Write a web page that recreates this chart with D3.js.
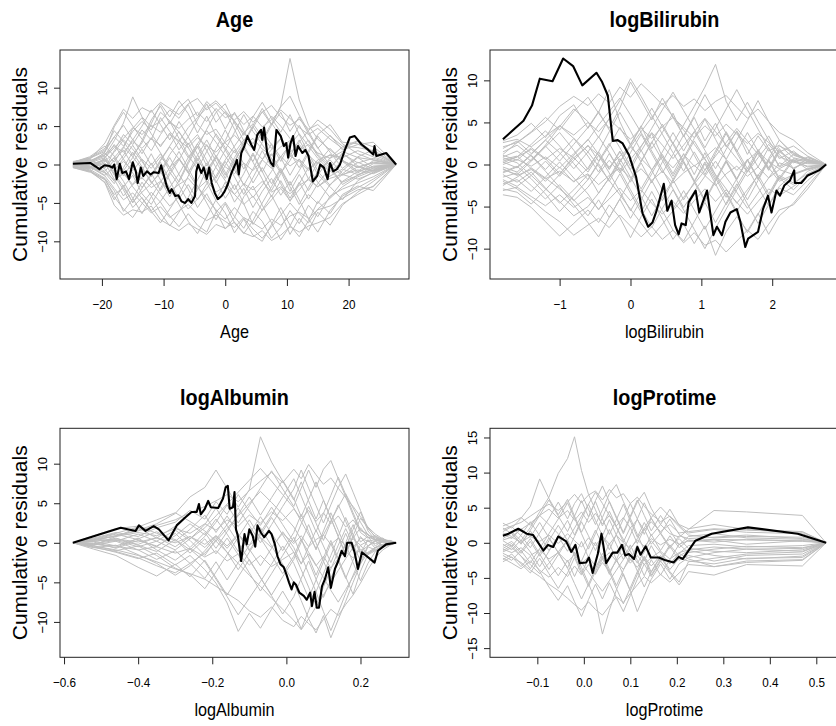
<!DOCTYPE html>
<html>
<head>
<meta charset="utf-8">
<script src="https://cdn.jsdelivr.net/npm/d3@7"></script>
<style>
  html, body { margin: 0; padding: 0; background: #fff; }
  svg { display: block; font-family: "Liberation Sans", Arial, Helvetica, sans-serif; }
</style>
</head>
<body>
<svg id="chart" width="836" height="726"></svg>
<script>
// ---------- Age ----------
const ageGrid = [-24.7,-22,-19.5,-18,-16.5,-15,-13.5,-12,-10.5,-9,-7.5,-6,-4.5,-3,-1.5,0,1.5,3,4.5,6,7.5,9,10.5,12,13.5,15,17,19,21.5,24,27.7];
const ageSims = [
  [0.2,0.5,1.2,3.1,5.4,8.8,6.2,4.9,5.6,7.1,6.0,7.8,5.2,3.9,4.6,2.8,1.5,3.2,2.0,0.7,1.9,3.3,1.1,0.4,-0.8,0.6,1.2,0.9,1.8,1.0,0],
  [-0.3,-0.8,-1.9,-4.2,-5.8,-6.9,-5.1,-3.6,-4.9,-6.7,-8.1,-6.4,-7.9,-8.8,-6.2,-4.9,-6.8,-8.3,-6.1,-7.4,-9.6,-8.2,-6.0,-7.7,-5.3,-6.8,-4.1,-3.2,-2.4,-1.6,0],
  [0.1,0.3,-0.5,1.8,3.9,2.6,4.5,3.2,6.1,4.3,2.8,0.9,2.2,4.6,6.8,7.9,5.4,3.1,4.8,6.9,5.2,7.6,13.8,8.4,5.1,3.3,1.9,0.6,-0.9,-0.3,0],
  [-0.1,-0.4,0.8,-1.2,-2.9,-1.4,-3.8,-5.2,-3.1,-1.0,-2.7,-4.9,-3.3,-0.6,-2.1,-4.4,-2.6,-5.1,-7.8,-5.9,-4.0,-6.3,-9.1,-7.0,-8.6,-6.2,-7.9,-5.3,-3.6,-2.2,0],
  [0.3,0.9,2.1,4.4,3.0,1.2,2.8,5.3,7.9,6.2,8.3,6.6,4.1,6.3,3.7,1.9,4.2,6.5,4.3,2.6,0.8,-1.1,0.5,2.9,4.4,5.8,4.6,2.7,1.4,0.6,0],
  [0.0,-0.2,-1.1,-2.5,-0.4,1.6,-0.3,-2.4,-1.1,0.9,-1.3,-3.2,-5.6,-3.8,-6.1,-8.4,-6.9,-4.2,-2.8,-5.3,-7.6,-9.8,-8.0,-5.7,-3.9,-5.1,-2.6,-1.3,-0.7,-1.2,0],
  [-0.2,0.4,1.5,0.3,2.2,4.7,6.1,4.0,2.3,4.1,1.9,3.6,5.8,7.9,5.5,6.9,4.6,2.1,0.4,2.9,5.1,6.8,4.3,6.2,4.0,2.1,3.8,1.9,2.6,2.9,0],
  [0.1,-0.5,0.2,-1.9,-4.1,-2.6,-0.8,1.4,-0.9,-3.1,-5.2,-7.4,-9.0,-6.8,-4.6,-2.3,-4.9,-3.1,-5.6,-3.5,-1.8,-4.0,-2.2,-4.6,-7.1,-8.8,-6.0,-4.1,-3.0,-1.9,0],
  [0.4,0.7,-0.6,-2.2,-1.0,-2.9,-4.4,-6.1,-7.6,-5.8,-3.9,-1.5,0.8,-1.3,0.9,3.1,5.7,3.8,6.2,8.1,6.0,4.2,6.5,3.9,1.4,-0.8,0.6,-1.2,0.3,-0.6,0],
  [-0.4,-1.0,0.9,2.6,0.7,-1.1,-3.0,-1.4,0.6,2.4,4.3,2.2,0.1,-2.3,-4.7,-6.3,-8.9,-7.1,-9.2,-10.0,-7.8,-5.6,-7.9,-9.4,-7.3,-4.8,-6.4,-3.9,-2.8,-3.4,0],
  [0.2,0.1,1.6,4.9,6.8,5.0,3.3,1.8,3.9,5.6,3.4,1.2,-0.6,1.7,4.0,2.2,0.3,2.6,4.9,3.1,5.4,3.6,1.5,-0.4,1.8,3.9,5.2,2.9,2.7,1.3,0],
  [-0.2,-0.6,-1.8,-3.4,-6.1,-4.5,-2.3,-4.1,-6.3,-8.0,-6.2,-4.3,-2.0,0.2,-2.4,-0.1,1.9,-0.6,1.5,-0.9,-3.4,-1.2,1.1,3.2,1.0,-1.3,-2.9,-4.6,-2.1,-1.0,0],
  [0.3,1.0,2.4,1.1,-0.8,0.9,3.1,5.8,7.6,5.3,7.4,8.5,6.3,8.2,7.0,4.6,6.8,4.4,2.2,4.3,2.6,0.4,2.8,5.1,3.0,1.1,-0.5,1.4,0.2,0.8,0],
  [-0.3,0.2,-0.9,0.6,1.9,-0.2,-1.9,0.2,-2.0,-4.2,-2.1,0.4,2.7,0.5,-1.8,0.4,-1.6,-3.9,-1.7,0.6,2.7,0.9,-1.4,0.7,-1.9,0.2,2.1,0.4,-1.1,0.1,0],
  [0.0,-0.3,0.6,-0.4,-2.2,-4.4,-6.4,-4.2,-2.3,-0.4,1.7,-0.5,-2.8,-5.0,-7.2,-5.1,-7.6,-9.0,-7.3,-5.0,-2.9,-0.7,-2.9,-5.2,-3.0,-0.9,-2.7,-0.8,0.9,-0.4,0],
  [0.2,0.6,-0.2,0.9,-1.5,0.3,2.0,-0.1,1.4,-0.9,0.8,-1.1,1.2,3.2,1.0,-1.4,0.9,2.9,5.1,7.3,5.2,7.5,8.9,6.4,4.3,2.2,-0.2,-2.6,-1.4,-0.2,0],
  [-0.1,0.3,1.1,-0.9,0.8,2.5,0.6,-1.6,0.3,-2.1,-4.5,-2.6,-4.6,-2.5,-0.3,1.9,-0.2,-2.7,-0.6,1.8,-0.3,-2.5,-4.8,-2.5,-0.4,-2.3,-4.3,-2.2,-0.9,0.5,0],
  [0.1,-0.2,-1.4,-0.3,1.2,3.3,1.4,3.5,1.5,-0.4,-2.3,0.1,2.4,-0.2,2.1,4.5,2.2,0.1,-2.4,-0.4,-2.5,-0.5,-2.7,-0.8,1.5,3.7,1.6,-0.5,1.0,1.9,0],
  [-0.4,-0.9,-2.3,-4.6,-2.7,-5.0,-3.1,-1.1,-3.4,-1.3,0.6,2.8,0.5,2.6,0.4,-1.8,0.5,2.5,0.3,-1.9,-4.2,-2.1,-4.4,-2.3,-4.5,-2.5,-0.4,1.5,-0.2,-0.8,0],
  [0.3,0.8,1.9,3.6,5.1,3.2,5.0,7.1,5.2,3.2,5.6,3.6,1.3,-1.1,1.2,-1.0,-3.3,-1.2,1.3,-1.0,1.4,-0.9,-3.5,-1.3,-3.4,-1.4,0.9,2.3,3.1,1.6,0],
  [0.1,0.6,2.8,5.1,7.2,6.0,7.4,6.8,8.1,7.3,6.5,7.9,8.6,7.1,8.0,6.6,5.8,6.9,5.5,6.8,7.7,6.2,5.1,5.9,4.6,5.2,3.7,2.4,2.2,1.8,0],
  [-0.2,-0.7,-2.4,-5.3,-6.6,-5.9,-6.2,-5.4,-7.2,-7.9,-8.6,-7.7,-8.4,-9.1,-7.8,-8.3,-7.5,-8.9,-9.4,-8.6,-9.9,-9.2,-8.1,-8.8,-8.0,-7.6,-6.9,-5.1,-3.9,-2.8,0],
  [0.0,0.2,0.9,2.2,3.4,4.8,3.9,5.1,4.2,5.5,4.7,5.9,6.8,5.6,7.3,6.1,6.6,5.2,6.3,4.9,5.8,7.1,6.0,4.8,3.9,4.7,3.3,2.1,3.0,2.3,0],
  [0.1,-0.3,-1.5,-3.1,-4.6,-3.7,-5.0,-6.3,-5.5,-6.9,-6.0,-5.2,-6.5,-7.3,-6.6,-7.4,-8.2,-6.9,-7.6,-8.4,-7.1,-7.9,-6.7,-6.2,-7.0,-5.9,-5.4,-4.4,-3.3,-2.9,0],
  [-0.1,0.1,0.5,-0.6,0.4,-0.8,0.7,-0.5,1.0,-0.4,0.8,-0.9,0.3,-0.6,0.9,-0.3,-1.2,0.2,-0.8,0.6,-0.5,1.1,-0.2,0.7,-0.6,0.3,-0.9,0.4,-0.3,0.2,0],
  [0.2,0.4,1.3,2.4,1.6,3.0,2.1,3.4,2.5,3.9,3.1,2.2,3.5,2.4,1.6,2.9,3.8,2.6,3.4,2.0,1.2,2.3,3.1,1.9,2.6,1.5,0.8,1.7,0.9,0.6,0],
  [-0.3,-0.4,-1.0,-2.0,-1.2,-2.6,-1.7,-3.0,-2.2,-3.5,-2.6,-1.8,-3.2,-2.1,-3.6,-2.8,-3.9,-2.5,-3.3,-2.2,-3.6,-2.9,-3.8,-2.7,-2.0,-2.9,-1.8,-1.3,-1.9,-1.1,0],
  [0.2,0.8,1.7,3.6,2.4,4.3,5.6,4.5,6.8,5.7,4.2,2.6,3.9,1.8,-0.4,-2.1,-3.9,-5.2,-4.1,-6.0,-4.6,-3.1,-4.7,-3.3,-1.8,-2.9,-1.5,-0.6,-1.3,-0.7,0],
  [-0.2,-0.9,-2.0,-3.9,-3.0,-4.9,-3.6,-2.5,-0.9,1.3,3.0,4.8,6.1,7.4,8.3,7.0,5.6,4.1,5.3,3.6,2.1,3.4,1.6,2.6,1.2,0.1,1.3,0.5,-0.4,0.3,0],
  [0.0,0.3,-0.4,0.9,2.3,1.0,-0.6,-2.2,-3.9,-5.4,-4.2,-5.8,-4.5,-3.1,-1.5,0.6,2.4,4.1,2.7,4.6,6.3,5.0,3.4,1.9,3.2,1.3,-0.2,-1.4,-0.3,-0.9,0],
  [0.1,-0.1,0.7,-1.4,-3.3,-5.6,-4.3,-6.0,-4.8,-3.0,-1.2,0.9,2.7,4.4,2.9,1.1,-0.7,-2.6,-4.3,-2.7,-0.9,1.0,2.6,4.0,2.4,0.8,-0.8,-2.3,-1.4,-0.5,0],
  [-0.3,-0.5,0.4,1.6,3.2,2.0,0.4,-1.4,0.5,2.3,0.7,-1.1,-2.9,-4.4,-5.9,-7.1,-5.6,-7.0,-8.4,-9.6,-8.1,-6.6,-5.0,-6.4,-7.6,-5.8,-4.4,-2.9,-1.6,-0.8,0]
];
const ageObs = [[-24.7,0.1],[-21.9,0.2],[-20.4,-0.6],[-19.6,-0.1],[-18.8,-0.2],[-18.3,-0.4],[-18.0,0],[-17.6,-1.9],[-17.1,0.1],[-16.7,-1.1],[-16.1,-0.9],[-15.6,-1.9],[-15.0,0.3],[-14.5,-0.9],[-14.2,-2.4],[-13.7,-0.4],[-13.3,-1.5],[-12.7,-0.9],[-12.1,-1.3],[-11.6,-1.0],[-10.8,-1.1],[-10.4,-0.1],[-10.0,-1.3],[-9.5,-2.8],[-9.0,-3.7],[-8.7,-3.2],[-8.1,-4.1],[-7.6,-4.0],[-7.1,-4.8],[-6.5,-5.0],[-6.0,-4.5],[-5.5,-5.0],[-4.9,-4.1],[-4.7,-0.9],[-4.4,0],[-3.9,-1.1],[-3.5,-0.4],[-3.0,-1.9],[-2.6,-0.4],[-2.2,-2.4],[-1.7,-3.7],[-1.2,-4.5],[-0.6,-4.1],[-0.1,-3.5],[0.4,-2.6],[1.0,-1.1],[1.5,-0.2],[1.9,0.6],[2.2,-1.3],[2.6,1.5],[3.1,2.4],[3.6,3.7],[4.2,2.6],[4.7,1.9],[5.2,3.9],[5.8,4.5],[6.0,3.2],[6.3,4.8],[6.8,1.5],[7.4,0.2],[7.8,-0.2],[8.3,4.5],[9.0,3.7],[9.5,2.4],[9.9,2.8],[10.2,0.9],[10.6,2.8],[11.0,3.7],[11.4,1.1],[11.8,2.4],[12.5,1.5],[13.0,1.9],[13.5,1.1],[14.2,-2.2],[14.9,-1.5],[15.4,0],[16.0,-0.4],[16.6,-1.9],[17.0,0.2],[17.5,-0.9],[18.1,-0.6],[18.6,0],[19.4,1.9],[20.2,3.5],[21.0,3.7],[22.1,2.6],[23.2,1.9],[24.0,1.3],[24.2,2.4],[24.5,1.1],[26.1,1.5],[27.7,0]];
const ageXTicks = [-20,-10,0,10,20];
const ageYTicks = [-10,-5,0,5,10];

// ---------- logBilirubin ----------
const biliGrid = [-1.8,-1.6,-1.4,-1.2,-1.0,-0.8,-0.6,-0.45,-0.3,-0.15,0,0.15,0.3,0.45,0.6,0.75,0.9,1.05,1.2,1.35,1.5,1.65,1.8,1.95,2.1,2.3,2.5,2.76];
const biliSims = [
  [2.8,3.5,4.9,3.2,5.8,7.1,4.3,6.2,8.9,5.1,2.4,4.6,1.9,3.8,6.1,3.3,5.6,2.8,4.9,2.1,3.9,1.2,3.4,1.6,2.3,0.8,0.4,0],
  [-3.6,-3.9,-5.1,-6.8,-8.5,-7.0,-5.4,-6.9,-4.8,-6.3,-8.7,-6.2,-4.1,-6.5,-8.9,-7.1,-9.4,-7.3,-10.8,-8.0,-6.2,-7.9,-5.8,-8.3,-6.1,-4.6,-2.5,0],
  [0.9,1.6,0.4,2.1,3.8,1.7,-0.6,1.5,3.9,6.2,4.0,1.6,3.7,0.9,-1.4,0.8,3.1,5.4,3.0,0.6,2.9,5.2,7.6,5.1,2.9,1.3,0.6,0],
  [-1.2,-2.1,-0.9,-2.8,-4.6,-3.0,-1.2,-3.4,-1.6,0.7,-1.5,-3.8,-6.1,-3.9,-1.8,-4.2,-2.1,0.1,-2.3,-4.8,-2.6,-0.4,-2.7,-4.9,-2.8,-3.6,-1.9,0],
  [2.1,2.6,3.9,5.6,4.1,6.3,8.0,6.1,4.3,6.7,9.8,7.6,5.3,7.9,5.6,3.4,5.8,8.3,6.0,3.7,1.5,3.8,1.6,-0.6,1.7,0.2,0.9,0],
  [-2.3,-1.8,-3.2,-1.5,0.3,-1.6,-3.5,-5.4,-3.3,-1.1,-3.4,-5.7,-3.2,-5.5,-7.8,-9.1,-6.8,-4.5,-6.9,-4.6,-2.3,-4.7,-7.0,-4.8,-2.6,-1.1,-0.5,0],
  [0.3,-0.4,1.1,-0.6,1.2,3.1,1.0,-0.9,1.3,-0.8,1.4,3.6,1.3,-1.0,1.2,3.5,1.1,-1.2,1.3,3.7,1.4,-0.9,1.5,3.4,1.2,-0.6,0.8,0],
  [1.5,2.3,1.0,-0.8,-2.7,-4.8,-6.9,-8.6,-6.3,-4.1,-6.4,-4.2,-1.9,-4.3,-2.0,0.3,-2.1,-4.4,-2.0,0.3,-1.9,-4.2,-1.9,0.4,-1.8,0.5,-0.3,0],
  [-0.6,-1.2,0.4,2.3,4.5,6.6,5.1,3.2,5.5,7.6,10.2,8.1,5.8,3.6,1.4,-0.8,1.5,-0.7,1.6,3.9,1.7,-0.5,1.8,-0.4,1.9,-0.5,0.4,0],
  [0.6,1.0,-0.5,-2.0,-0.3,-2.1,-0.4,1.5,-0.5,1.6,-0.6,1.7,-0.7,-3.0,-5.3,-3.1,-5.4,-7.7,-5.5,-3.3,-5.6,-3.4,-1.2,-3.5,-1.3,-2.2,-1.1,0],
  [-1.8,-2.6,-1.3,0.4,-1.4,0.5,2.3,0.4,2.5,0.3,2.4,0.3,2.6,4.8,2.5,4.7,6.9,9.2,11.9,7.5,5.2,7.4,5.1,2.9,0.7,1.6,0.3,0],
  [1.1,0.5,2.0,0.7,-1.1,0.8,-0.9,1.1,-1.0,-3.2,-5.5,-3.3,-1.1,1.2,-1.1,1.3,-1.2,1.4,-1.3,-3.5,-5.8,-8.1,-5.9,-3.7,-1.5,-2.4,-0.8,0],
  [-2.9,-3.3,-4.7,-3.0,-1.2,1.1,3.0,1.2,-0.6,1.5,-0.7,-2.9,-0.7,1.5,3.8,1.6,3.9,1.7,-0.5,1.8,4.0,1.9,-0.3,2.0,-0.2,1.2,0.5,0],
  [0.2,0.9,2.4,4.0,2.2,0.1,-1.8,0.3,2.2,4.4,2.3,4.5,6.7,4.5,2.4,0.2,-2.0,0.3,-1.9,0.4,-1.8,0.5,-1.7,0.6,-1.6,0.7,0.2,0],
  [-0.9,-0.2,-1.7,-3.5,-5.6,-3.7,-1.8,0.1,-2.0,0.2,-2.1,0.2,-2.2,0.3,2.6,0.4,-1.9,-4.2,-1.8,0.5,-1.7,0.6,-1.6,-3.9,-1.6,-3.0,-1.3,0],
  [1.9,2.8,1.3,2.9,1.4,-0.5,1.5,3.3,1.4,-0.7,-3.0,-5.3,-7.5,-5.2,-3.0,-5.4,-7.7,-10.0,-7.6,-5.3,-3.0,-0.8,1.4,-0.7,1.5,0.4,0.6,0],
  [-0.3,-0.9,0.6,2.2,0.4,2.4,4.4,6.3,4.1,2.0,-0.2,2.1,4.3,6.5,8.6,6.4,4.2,2.0,4.3,6.6,8.9,6.5,4.2,1.9,-0.3,0.6,-0.6,0],
  [-1.5,-1.0,-2.5,-4.1,-2.4,-4.2,-6.1,-4.2,-6.3,-4.1,-1.8,0.4,2.7,0.5,-1.8,0.6,2.8,0.7,-1.6,-3.9,-1.7,0.6,-1.8,0.7,2.9,1.1,0.5,0],
  [1.2,2.6,3.8,5.1,6.9,8.1,7.0,8.4,7.3,9.2,8.0,9.6,8.4,7.1,8.2,6.9,7.8,6.4,7.5,8.2,6.8,5.5,6.6,5.1,3.8,2.9,1.4,0],
  [-2.0,-2.9,-4.2,-5.6,-6.8,-8.4,-7.2,-6.4,-7.5,-6.0,-7.3,-8.6,-7.4,-8.9,-7.8,-9.3,-8.1,-9.6,-9.0,-10.4,-9.1,-7.8,-8.9,-7.1,-5.4,-4.8,-2.9,0],
  [0.4,0.9,1.8,0.6,1.9,0.8,2.2,1.1,-0.3,1.0,2.1,0.7,-0.6,0.9,-0.4,1.2,-0.2,0.8,2.0,0.6,-0.7,0.5,1.6,0.3,-0.5,0.4,0.1,0],
  [-0.5,-1.3,-0.6,-1.7,-0.8,-2.0,-1.1,-2.4,-1.3,-0.4,-1.6,-0.5,-1.9,-0.8,-2.2,-1.0,-0.1,-1.3,-2.5,-1.1,-0.2,-1.4,-0.3,-1.6,-0.6,-1.2,-0.5,0],
  [2.6,3.0,2.1,3.4,4.6,3.5,5.0,3.9,5.4,4.2,3.0,4.3,3.1,4.5,5.6,4.4,3.2,4.6,3.4,4.8,3.6,2.5,3.7,2.6,1.5,2.2,1.0,0],
  [-3.1,-2.7,-3.8,-4.9,-3.6,-5.1,-3.9,-5.3,-4.1,-2.8,-4.3,-3.0,-4.6,-5.9,-4.4,-5.8,-4.3,-2.9,-4.4,-3.0,-4.5,-5.9,-4.4,-2.9,-3.7,-2.6,-1.4,0],
  [0.8,0.2,-1.3,-2.9,-4.4,-6.1,-5.0,-3.4,-1.6,0.3,2.1,3.9,5.6,7.3,5.7,4.1,2.4,0.6,-1.2,-2.9,-4.6,-3.0,-1.3,0.5,2.2,1.4,0.6,0],
  [-1.0,-0.3,1.2,2.9,4.6,3.1,1.5,-0.2,-1.9,-3.6,-5.3,-7.0,-8.6,-7.1,-5.5,-3.9,-2.3,-0.7,1.0,2.6,4.3,2.8,1.2,-0.4,-2.0,-1.2,-0.6,0],
  [0.0,0.6,-0.2,0.9,-0.4,1.3,2.9,4.7,6.3,7.9,5.9,3.8,1.6,-0.6,-2.9,-5.1,-3.2,-1.4,0.4,-1.5,-3.3,-5.2,-3.4,-1.6,0.2,-0.4,0.3,0],
  [-2.5,-1.5,-0.4,-1.6,-2.9,-4.3,-2.7,-1.1,0.5,-1.0,0.6,2.2,3.8,2.3,0.7,2.3,3.9,5.5,3.9,2.3,0.7,-0.9,0.8,2.4,0.9,0.3,-0.2,0]
];
const biliObs = [[-1.80,3.0],[-1.51,5.2],[-1.39,7.0],[-1.28,10.2],[-1.10,9.9],[-0.95,12.6],[-0.81,11.7],[-0.68,9.4],[-0.48,10.9],[-0.40,9.8],[-0.32,8.2],[-0.25,2.8],[-0.18,2.9],[-0.11,2.5],[-0.02,1.1],[0.08,-1.5],[0.17,-5.8],[0.25,-7.4],[0.31,-6.9],[0.36,-5.7],[0.40,-4.5],[0.47,-2.3],[0.52,-5.5],[0.58,-4.3],[0.63,-7.2],[0.68,-8.3],[0.72,-7.0],[0.78,-7.2],[0.82,-4.5],[0.92,-3.1],[0.97,-5.7],[1.01,-4.7],[1.08,-3.1],[1.17,-8.4],[1.22,-7.4],[1.29,-8.4],[1.34,-6.8],[1.41,-5.7],[1.50,-5.3],[1.55,-6.8],[1.62,-9.8],[1.66,-8.8],[1.80,-8.0],[1.87,-5.3],[1.94,-3.7],[1.99,-5.7],[2.06,-3.1],[2.11,-3.7],[2.17,-2.5],[2.25,-1.9],[2.31,-0.7],[2.32,-2.2],[2.41,-2.2],[2.50,-1.3],[2.66,-0.7],[2.76,0]];
const biliXTicks = [-1,0,1,2];
const biliYTicks = [-10,-5,0,5,10];

// ---------- logAlbumin ----------
const albGrid = [-0.576,-0.52,-0.46,-0.40,-0.35,-0.30,-0.26,-0.22,-0.19,-0.16,-0.13,-0.10,-0.07,-0.04,-0.01,0.02,0.04,0.06,0.08,0.10,0.12,0.14,0.16,0.18,0.20,0.22,0.24,0.26,0.28,0.296];
const albSims = [
  [0,0.6,1.3,0.8,1.9,2.6,4.1,3.0,5.2,3.6,6.1,4.0,2.2,4.5,2.3,0.1,2.4,4.6,2.5,0.3,2.6,4.8,2.7,0.6,1.9,0.7,0.4,0.2,-0.2,0],
  [0,-0.5,-1.2,-2.0,-1.3,-2.8,-1.6,-3.4,-5.1,-7.6,-11.2,-8.9,-10.8,-8.4,-6.1,-8.5,-10.9,-8.6,-6.2,-8.7,-11.1,-8.8,-6.4,-4.1,-2.0,-1.2,-0.6,-0.3,0.1,0],
  [0,0.3,0.9,1.6,2.4,3.7,5.8,7.0,9.2,6.9,4.5,6.7,13.4,10.2,7.8,5.4,7.7,5.3,3.0,5.4,3.1,0.8,3.2,1.0,-1.1,-0.4,0.3,0.1,0.2,0],
  [0,-0.3,0.2,-0.9,-2.1,-1.0,-2.6,-4.5,-2.4,-4.7,-2.5,-0.3,1.9,-0.4,-2.7,-5.0,-7.3,-9.6,-11.4,-9.2,-12.0,-9.7,-7.4,-5.0,-2.7,-0.5,-0.9,-0.4,-0.1,0],
  [0,0.9,1.8,2.1,1.2,0.4,-0.9,0.8,2.6,4.8,2.5,4.7,6.9,9.1,6.8,4.6,6.9,9.2,7.0,9.3,10.4,8.1,5.8,3.5,1.3,0.6,0.9,0.4,0.1,0],
  [0,-0.8,-1.6,-3.1,-4.2,-2.7,-4.3,-2.2,-4.4,-6.6,-4.3,-2.1,-4.4,-6.7,-9.0,-6.8,-4.5,-2.3,-4.6,-6.9,-4.7,-2.4,-0.2,-2.5,-4.8,-2.6,-1.1,-0.5,-0.2,0],
  [0,0.2,-0.4,0.5,1.4,0.2,1.7,3.5,1.3,3.4,1.2,-1.0,1.3,3.5,5.8,8.1,5.9,3.6,1.4,3.7,6.0,8.3,6.1,3.8,1.6,1.1,0.3,0.5,0.1,0],
  [0,-0.2,0.6,-0.3,-1.1,0.4,-1.3,0.5,-1.4,0.6,-1.5,-3.8,-6.1,-3.9,-1.6,0.7,-1.6,-3.9,-6.2,-3.9,-1.6,0.7,-1.5,0.8,-1.4,0.4,-0.7,0.2,-0.1,0],
  [0,0.5,0.2,1.1,0.2,1.6,0.3,-1.6,0.4,2.3,4.4,2.2,0.0,2.3,4.6,6.8,9.2,6.9,4.7,2.5,4.8,7.0,8.7,6.4,4.1,1.8,0.8,0.3,0.3,0],
  [0,-0.4,-1.0,-0.4,-1.6,-3.2,-4.0,-5.8,-3.7,-1.5,0.7,2.9,0.6,-1.6,-3.9,-1.7,0.5,-1.8,-4.1,-1.9,0.3,-2.0,-4.3,-6.5,-3.6,-1.5,-1.0,-0.6,-0.2,0],
  [0,0.1,-0.7,0.3,-0.4,0.9,2.4,1.0,3.0,1.1,-1.1,1.1,3.3,1.2,-1.0,1.3,3.6,1.4,-0.9,1.5,3.8,1.6,-0.7,1.7,3.9,1.5,0.4,0.6,-0.1,0],
  [0,-0.6,-0.3,-1.5,-2.6,-4.1,-2.9,-1.0,0.7,-1.2,-3.4,-1.2,1.0,3.2,1.0,-1.2,-3.4,-5.6,-7.9,-5.6,-3.3,-1.1,1.2,-1.0,0.8,-0.4,0.2,-0.3,0.0,0],
  [0,0.4,1.1,0.4,-0.5,1.2,-0.6,1.3,-0.7,1.4,3.6,5.8,3.5,5.7,7.9,5.6,3.3,5.5,7.7,5.4,3.1,0.8,-1.4,0.9,3.1,1.9,0.7,0.1,0.3,0],
  [0,-0.1,-0.6,0.6,-0.9,-2.2,-0.8,-2.4,-4.6,-6.8,-9.1,-7.0,-4.9,-2.7,-0.4,-2.6,-4.8,-7.0,-4.7,-2.4,-0.1,-2.3,-4.5,-2.2,-0.3,-1.5,-0.6,-0.2,0.1,0],
  [0,0.2,0.4,-0.2,0.7,-0.5,0.8,-0.6,0.9,-0.7,1.0,-0.8,-2.9,-0.7,1.4,-0.6,-2.7,-0.5,1.6,-0.4,-2.5,-0.3,1.8,-0.2,-2.3,-0.4,0.2,-0.4,0.1,0],
  [0,-0.3,0.8,1.9,0.6,2.1,0.5,2.3,4.4,2.2,0.0,-2.2,-4.4,-6.6,-4.3,-2.1,0.1,2.3,0.0,-2.3,-4.5,-2.2,0.0,2.3,0.1,0.8,-0.4,0.3,-0.2,0],
  [0,0.3,0.9,1.5,2.2,2.9,3.8,4.6,5.3,6.1,5.2,6.6,7.8,8.9,7.6,9.3,8.1,9.9,8.6,7.4,8.2,6.9,5.7,4.6,3.3,2.0,1.1,0.5,0.2,0],
  [0,-0.4,-0.9,-1.6,-2.4,-3.3,-3.9,-4.6,-5.5,-6.4,-7.3,-8.6,-9.4,-8.1,-9.8,-10.6,-9.3,-10.2,-11.0,-9.7,-8.4,-9.2,-7.8,-6.6,-5.1,-3.4,-1.9,-0.9,-0.3,0],
  [0,0.2,0.5,0.1,0.6,0.0,0.8,-0.2,0.9,-0.4,1.1,-0.3,0.7,-0.6,1.2,-0.1,0.9,-0.5,0.4,1.0,-0.2,0.6,-0.4,0.5,-0.3,0.2,-0.1,0.1,0.0,0],
  [0,-0.2,-0.4,-0.9,-0.5,-1.3,-0.7,-1.8,-1.0,-2.3,-1.4,-2.8,-1.6,-3.0,-2.1,-1.2,-2.6,-1.4,-2.9,-1.7,-3.2,-2.0,-1.1,-1.9,-0.8,-1.4,-0.6,-0.3,-0.1,0],
  [0,0.4,0.8,1.3,0.9,1.8,1.2,2.4,1.6,2.9,2.1,3.5,2.5,3.9,2.8,4.3,3.0,4.1,2.7,3.8,2.4,3.4,2.0,2.9,1.6,1.0,0.6,0.3,0.1,0],
  [0,-0.6,-1.1,-1.9,-2.9,-3.8,-2.6,-1.3,0.2,1.8,3.4,5.0,6.5,5.1,3.6,2.0,0.4,-1.2,-2.8,-4.4,-6.0,-7.5,-5.9,-4.3,-2.6,-1.3,-0.9,-0.4,-0.2,0],
  [0,0.5,1.2,2.0,2.9,3.8,2.7,1.5,0.2,-1.2,-2.6,-4.1,-5.5,-7.0,-8.4,-9.8,-11.0,-9.6,-8.1,-6.6,-5.0,-3.5,-2.0,-0.6,0.6,0.2,0.4,0.1,0.1,0],
  [0,-0.1,0.3,-0.5,0.2,-0.9,0.5,1.9,3.4,4.9,6.4,7.9,9.4,7.8,6.1,4.4,2.7,1.0,-0.7,1.0,2.8,4.5,6.2,4.4,2.6,1.0,0.3,0.2,-0.1,0]
];
const albObs = [[-0.576,0],[-0.447,1.9],[-0.407,1.5],[-0.398,2.2],[-0.380,1.5],[-0.358,2.1],[-0.344,1.7],[-0.318,0.3],[-0.296,2.2],[-0.273,3.2],[-0.256,3.9],[-0.242,3.9],[-0.236,4.9],[-0.231,3.6],[-0.220,4.3],[-0.211,5.3],[-0.204,4.5],[-0.184,4.4],[-0.171,5.6],[-0.164,7.0],[-0.158,7.2],[-0.153,4.3],[-0.144,4.5],[-0.140,6.4],[-0.136,1.7],[-0.131,0.9],[-0.122,-2.3],[-0.113,1.1],[-0.107,-0.2],[-0.100,1.7],[-0.091,0.9],[-0.084,-0.5],[-0.078,2.2],[-0.069,1.3],[-0.060,0.7],[-0.047,1.5],[-0.040,1.1],[-0.031,-0.2],[-0.024,-1.7],[-0.016,-2.7],[-0.007,-3.1],[0.000,-4.0],[0.007,-5.0],[0.014,-5.9],[0.020,-5.0],[0.026,-5.3],[0.035,-6.3],[0.047,-6.7],[0.055,-7.2],[0.064,-6.3],[0.069,-8.0],[0.076,-6.2],[0.082,-8.2],[0.088,-8.2],[0.096,-5.5],[0.104,-4.6],[0.113,-3.1],[0.120,-5.7],[0.131,-3.3],[0.140,-2.3],[0.149,-1.0],[0.158,-1.7],[0.164,0],[0.176,0],[0.184,-1.2],[0.193,-3.3],[0.204,-1.2],[0.238,-2.5],[0.247,-1.0],[0.269,-0.2],[0.296,0]];
const albXTicks = [-0.6,-0.4,-0.2,0.0,0.2];
const albYTicks = [-10,-5,0,5,10];

// ---------- logProtime ----------
const protGrid = [-0.174,-0.155,-0.135,-0.115,-0.095,-0.075,-0.055,-0.035,-0.02,-0.005,0.01,0.025,0.04,0.055,0.07,0.085,0.10,0.115,0.13,0.145,0.165,0.185,0.205,0.225,0.28,0.35,0.47,0.521];
const protSims = [
  [2.8,2.1,3.5,5.2,9.1,6.3,4.0,6.2,3.8,1.5,3.6,5.9,3.4,1.2,3.3,5.5,3.1,0.8,2.9,1.0,2.6,1.3,0.8,1.9,4.6,4.4,3.9,0],
  [-2.7,-2.0,-3.4,-1.9,-4.1,-6.3,-8.2,-6.1,-8.4,-10.5,-8.1,-5.9,-8.0,-5.7,-7.8,-9.8,-7.5,-5.2,-3.0,-4.8,-2.6,-4.3,-6.0,-4.1,-4.6,-3.1,-3.3,0],
  [0.9,1.6,0.3,2.2,4.4,6.5,9.9,12.0,15.1,10.3,6.9,4.7,2.4,4.5,2.3,0.1,2.2,-0.1,2.0,-0.2,1.4,-0.5,0.6,-0.8,-1.2,-1.4,-1.0,0],
  [-1.1,-0.4,-1.9,-3.7,-1.5,0.7,-1.4,-3.6,-1.3,-3.5,-5.8,-8.2,-13.0,-9.6,-6.7,-4.4,-6.8,-4.5,-2.2,-4.6,-2.4,-0.3,-1.9,-1.1,-1.8,-2.3,-1.9,0],
  [1.6,2.3,1.0,-0.7,1.4,3.5,5.8,3.4,5.6,7.0,4.8,2.6,4.7,7.0,8.3,5.9,3.6,5.8,7.2,4.9,2.6,4.8,2.5,1.4,1.9,1.5,1.3,0],
  [-0.5,0.2,-1.2,0.6,-1.6,-3.8,-1.7,0.4,-1.8,-4.0,-6.2,-4.1,-1.9,-4.2,-6.5,-8.7,-6.4,-4.1,-1.9,-4.2,-2.0,-4.1,-5.6,-2.7,-2.2,-1.6,-1.3,0],
  [0.3,-0.5,1.1,3.0,1.0,-1.1,1.0,3.2,1.1,3.3,5.5,3.2,1.0,3.3,1.1,-1.1,1.1,3.4,1.2,3.5,1.3,-0.8,1.0,0.6,0.8,1.1,0.6,0],
  [2.1,1.3,-0.2,1.7,-0.4,-2.6,-4.7,-2.5,-4.8,-2.6,-0.4,1.8,-0.3,1.9,-0.2,-2.4,-0.3,-2.5,-4.7,-2.4,-4.6,-2.4,-0.2,-1.4,-0.9,-0.5,-0.7,0],
  [-1.8,-2.5,-1.1,-2.9,-0.8,1.3,3.4,5.7,3.5,1.3,-0.9,1.3,3.6,5.9,3.7,1.5,3.8,6.1,3.9,1.7,3.9,1.8,-0.3,0.9,1.3,0.7,0.5,0],
  [1.2,0.6,2.0,0.8,2.9,0.7,-1.4,-3.6,-5.8,-8.0,-5.9,-3.7,-1.5,-3.8,-6.1,-3.9,-1.7,-4.0,-6.3,-4.1,-1.9,-3.8,-2.2,-2.6,-3.0,-2.2,-2.1,0],
  [-0.2,-1.0,0.4,-1.3,-3.4,-1.2,0.9,-1.2,0.9,3.0,1.0,-1.1,1.1,-1.0,1.2,3.4,5.6,3.4,5.7,3.5,1.3,3.4,1.2,0.2,0.4,-0.2,0.3,0],
  [-2.4,-1.6,-3.0,-4.3,-2.2,-4.4,-6.5,-4.3,-2.1,-4.4,-2.2,-4.5,-2.3,-0.1,-2.4,-0.2,-2.5,-0.3,-2.6,-0.4,-2.7,-0.5,-2.5,-1.8,-2.6,-1.8,-1.6,0],
  [0.6,1.4,-0.1,1.8,3.9,6.1,3.8,1.6,3.8,6.0,3.7,6.0,8.1,5.8,3.5,1.3,3.5,1.2,-1.0,1.2,-1.1,1.0,-0.7,0.4,0.1,0.5,0.2,0],
  [-0.8,-0.1,-1.5,0.2,-1.9,0.3,2.5,0.3,-1.9,0.2,-2.1,0.1,-2.2,-4.5,-2.3,-4.6,-6.9,-9.8,-7.5,-5.2,-3.0,-5.2,-3.0,-2.1,-1.4,-0.9,-1.2,0],
  [1.9,2.4,2.9,3.8,4.7,5.5,4.6,5.8,6.9,5.7,6.8,7.4,6.1,7.6,6.4,7.0,5.6,6.5,5.2,4.1,3.0,3.8,2.6,2.0,2.6,1.9,1.6,0],
  [-1.5,-2.1,-2.8,-3.9,-4.8,-5.9,-6.8,-7.9,-8.8,-9.6,-8.4,-9.5,-10.3,-9.0,-7.7,-8.5,-7.2,-6.0,-4.8,-5.7,-4.5,-5.6,-4.3,-3.1,-3.4,-2.8,-2.5,0],
  [0.4,0.8,0.1,0.9,0.2,1.1,-0.1,1.3,0.3,-0.6,0.7,-0.4,0.9,-0.2,1.1,0.0,-0.8,0.4,-0.5,0.6,-0.3,0.5,-0.2,0.3,0.5,0.4,0.3,0],
  [-0.9,-1.4,-0.7,-1.8,-1.0,-2.3,-1.4,-2.7,-1.7,-3.0,-2.0,-3.3,-2.3,-1.4,-2.6,-1.5,-2.9,-1.8,-3.1,-2.1,-1.2,-2.3,-1.4,-1.0,-0.6,-0.9,-0.8,0],
  [1.4,0.9,1.9,2.8,3.9,2.6,1.3,-0.1,-1.5,-2.8,-4.2,-5.6,-6.9,-5.4,-3.9,-2.4,-0.9,0.6,2.1,3.6,5.1,3.7,2.3,1.1,0.7,0.9,0.8,0],
  [-1.3,-0.7,-1.9,-3.1,-4.4,-2.9,-1.3,0.4,2.1,3.8,5.5,7.2,5.6,3.9,2.2,0.5,-1.2,-2.9,-1.3,0.3,-1.4,-3.0,-1.5,-0.4,-0.2,-0.6,-0.4,0],
  [2.4,2.9,3.6,2.5,3.9,4.8,3.5,4.6,3.2,4.4,2.9,4.2,2.7,3.9,2.4,3.6,2.1,3.3,1.8,3.0,1.6,2.6,1.4,1.6,2.0,1.8,1.5,0],
  [-2.2,-2.9,-3.7,-2.6,-3.9,-4.9,-3.5,-4.8,-3.3,-4.6,-3.1,-4.4,-2.8,-4.1,-2.6,-3.8,-2.3,-3.5,-2.0,-3.3,-1.8,-3.0,-1.5,-2.3,-3.4,-2.6,-2.4,0]
];
const protObs = [[-0.174,1.0],[-0.162,1.3],[-0.141,2.0],[-0.123,1.3],[-0.109,1.1],[-0.087,-1.1],[-0.077,-0.3],[-0.066,-0.6],[-0.055,0.9],[-0.038,0.2],[-0.027,-1.3],[-0.018,-0.3],[-0.009,-2.9],[0.005,-2.8],[0.011,-2.1],[0.019,-4.3],[0.030,-1.6],[0.038,1.3],[0.048,-2.9],[0.062,-1.4],[0.072,-1.4],[0.082,-0.3],[0.089,-1.8],[0.097,-1.6],[0.108,-2.3],[0.115,-0.6],[0.122,-1.7],[0.133,-0.5],[0.144,-2.1],[0.161,-2.1],[0.176,-2.5],[0.193,-2.8],[0.204,-2.0],[0.213,-2.3],[0.240,0.3],[0.275,1.3],[0.353,2.2],[0.460,1.3],[0.521,0]];
const protXTicks = [-0.1,0.0,0.1,0.2,0.3,0.4,0.5];
const protYTicks = [-15,-10,-5,0,5,10,15];

const yLabel = "Cumulative residuals";

// Panel table built from the arrays above
const panels = [
  { name: "Age", grid: ageGrid, sims: ageSims, obs: ageObs, xt: ageXTicks, yt: ageYTicks, fmt: d3.format("d") },
  { name: "logBilirubin", grid: biliGrid, sims: biliSims, obs: biliObs, xt: biliXTicks, yt: biliYTicks, fmt: d3.format("d") },
  { name: "logAlbumin", grid: albGrid, sims: albSims, obs: albObs, xt: albXTicks, yt: albYTicks, fmt: d3.format(".1f") },
  { name: "logProtime", grid: protGrid, sims: protSims, obs: protObs, xt: protXTicks, yt: protYTicks, fmt: d3.format(".1f") }
];

// 2 x 2 layout of plot regions
const boxes = [
  { l: 60,  r: 409, t: 50,    b: 279 },
  { l: 490, r: 839, t: 50,    b: 279 },
  { l: 60,  r: 409, t: 428.3, b: 657.3 },
  { l: 490, r: 839, t: 428.3, b: 657.3 }
];

const svg = d3.select("#chart");
const GREY = "#bebebe";
const HX = 0.9; // horizontal squeeze of the lettering

panels.forEach((p, i) => {
  const bx = boxes[i];
  const simPts = p.sims.map(s => s.map((v, k) => [p.grid[k], v]).filter(d => d[0] !== undefined));
  const allPts = simPts.flat().concat(p.obs);

  // x range padded by 4% like base graphics; y range symmetric about zero
  const [x0, x1] = d3.extent(allPts, d => d[0]);
  const pad = (x1 - x0) * 0.04;
  const ymax = d3.max(allPts, d => Math.abs(d[1])) * 1.08;

  const x = d3.scaleLinear().domain([x0 - pad, x1 + pad]).range([bx.l, bx.r]);
  const y = d3.scaleLinear().domain([-ymax, ymax]).range([bx.b, bx.t]);

  const g = svg.append("g");
  const clipId = "clip" + i;
  g.append("clipPath").attr("id", clipId).append("rect")
    .attr("x", bx.l).attr("y", bx.t).attr("width", bx.r - bx.l).attr("height", bx.b - bx.t);

  const line = d3.line().x(d => x(d[0])).y(d => y(d[1]));
  const plot = g.append("g").attr("clip-path", `url(#${clipId})`);

  plot.selectAll("path.sim").data(simPts).join("path")
    .attr("class", "sim")
    .attr("d", line)
    .attr("fill", "none")
    .attr("stroke", GREY)
    .attr("stroke-width", 1)
    .attr("stroke-linejoin", "round");

  plot.append("path").datum(p.obs)
    .attr("d", line)
    .attr("fill", "none")
    .attr("stroke", "#000")
    .attr("stroke-width", 2.1)
    .attr("stroke-linejoin", "round");

  // frame
  g.append("rect")
    .attr("x", bx.l).attr("y", bx.t)
    .attr("width", bx.r - bx.l).attr("height", bx.b - bx.t)
    .attr("fill", "none").attr("stroke", "#222").attr("stroke-width", 1);

  // x axis
  const xa = g.append("g").attr("transform", `translate(0,${bx.b})`)
    .call(d3.axisBottom(x).tickValues(p.xt).tickFormat(p.fmt).tickSize(7).tickSizeOuter(0));
  xa.select(".domain").remove();
  xa.selectAll(".tick line").attr("stroke", "#222");
  xa.selectAll(".tick text")
    .attr("font-size", 13).attr("fill", "#000")
    .attr("font-family", "Liberation Sans, Arial, sans-serif")
    .attr("y", 30).attr("dy", 0).attr("x", 0)
    .attr("transform", `scale(${HX},1)`);

  // y axis
  const ya = g.append("g").attr("transform", `translate(${bx.l},0)`)
    .call(d3.axisLeft(y).tickValues(p.yt).tickFormat(d3.format("d")).tickSize(6).tickSizeOuter(0));
  ya.select(".domain").remove();
  ya.selectAll(".tick line").attr("stroke", "#222");
  ya.selectAll(".tick text")
    .attr("font-size", 13).attr("fill", "#000")
    .attr("font-family", "Liberation Sans, Arial, sans-serif")
    .attr("text-anchor", "middle")
    .attr("x", 0).attr("y", -13).attr("dy", 0)
    .attr("transform", "rotate(-90)");

  const cx = (bx.l + bx.r) / 2;
  const cy = (bx.t + bx.b) / 2;

  // title
  g.append("text")
    .attr("transform", `translate(${cx},${bx.t - 23}) scale(${HX},1)`)
    .attr("text-anchor", "middle")
    .attr("font-size", 22).attr("font-weight", "bold")
    .text(p.name);

  // x label
  g.append("text")
    .attr("transform", `translate(${cx},${bx.b + 59}) scale(${HX},1)`)
    .attr("text-anchor", "middle")
    .attr("font-size", 18)
    .text(p.name);

  // y label
  g.append("text")
    .attr("transform", `translate(${bx.l - 33},${cy}) rotate(-90)`)
    .attr("text-anchor", "middle")
    .attr("font-size", 21)
    .text(yLabel);
});
</script>
</body>
</html>
